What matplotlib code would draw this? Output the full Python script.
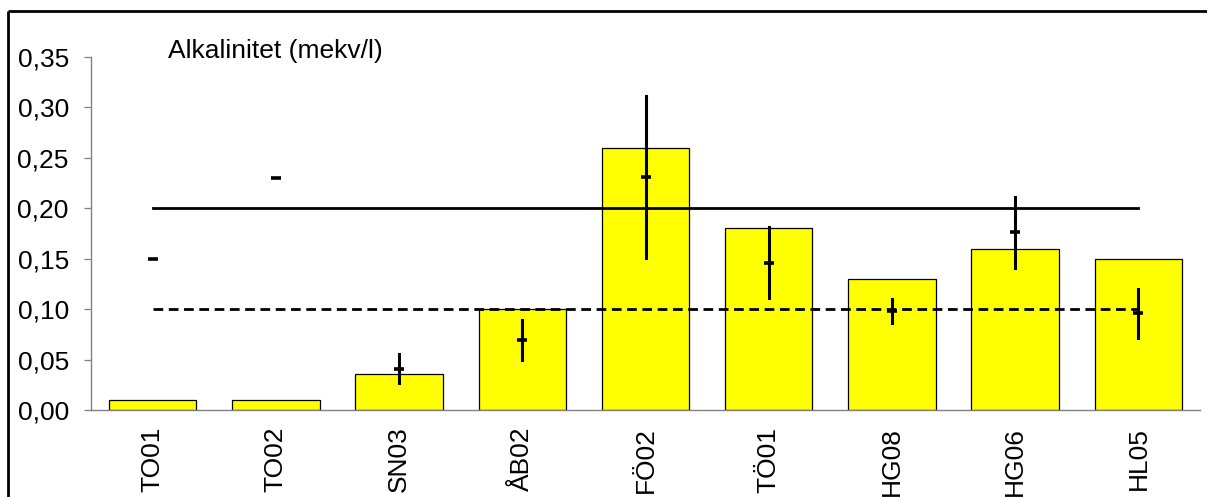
import matplotlib
matplotlib.use("Agg")
import matplotlib.pyplot as plt
from matplotlib.lines import Line2D
from matplotlib.ticker import FuncFormatter

plt.rcParams['font.family'] = ['Liberation Sans', 'DejaVu Sans']

# data
stations = ["TO01", "TO02", "SN03", "ÅB02", "FÖ02", "TÖ01", "HG08", "HG06", "HL05"]
bar_values = [0.01, 0.01, 0.036, 0.10, 0.26, 0.18, 0.13, 0.16, 0.15]
mean_values = [0.15, 0.23, 0.041, 0.069, 0.231, 0.146, 0.098, 0.176, 0.096]
range_low = [None, None, 0.027, 0.05, 0.151, 0.111, 0.086, 0.141, 0.071]
range_high = [None, None, 0.056, 0.089, 0.311, 0.181, 0.110, 0.211, 0.120]
upper_limit = 0.20
lower_limit = 0.10

W, H = 1207, 497
fig = plt.figure(figsize=(W / 100, H / 100), dpi=100)
ax = fig.add_axes([91 / W, 1 - 410 / H, (1200 - 91) / W, (410 - 57) / H])

x = list(range(len(stations)))
ax.bar(x, bar_values, width=0.71, color="#FFFF00", edgecolor="black", linewidth=0.9, zorder=2)

# reference lines
ax.plot([x[0], x[-1]], [upper_limit, upper_limit], color="black", linewidth=2.0, zorder=3)
ax.plot([x[0], x[-1]], [lower_limit, lower_limit], color="black", linewidth=2.0,
        linestyle=(0, (3.5, 2)), zorder=3)

# min-max ranges and mean ticks
for xi, lo, hi, m in zip(x, range_low, range_high, mean_values):
    if lo is not None:
        ax.plot([xi, xi], [lo, hi], color="black", linewidth=2.2, zorder=4)
    ax.plot([xi], [m], marker="_", markersize=7.5, markeredgewidth=2.6, color="black", zorder=5)

ax.set_xlim(-0.5, len(stations) - 0.5)
ax.set_ylim(0, 0.35)
ax.set_yticks([0, 0.05, 0.10, 0.15, 0.20, 0.25, 0.30, 0.35])
ax.yaxis.set_major_formatter(FuncFormatter(lambda v, p: f"{v:.2f}".replace(".", ",")))
ax.set_xticks(x)
ax.set_xticklabels(stations, rotation=90, fontsize=19)
ax.tick_params(axis="x", length=0, pad=12)
ax.tick_params(axis="y", length=5, width=0.9, color="#808080", labelsize=19, pad=11)

for side in ["top", "right"]:
    ax.spines[side].set_visible(False)
for side in ["left", "bottom"]:
    ax.spines[side].set_color("#808080")
    ax.spines[side].set_linewidth(1.0)

fig.text(168 / W, 1 - 58 / H, "Alkalinitet (mekv/l)", fontsize=19, va="baseline", ha="left")

# outer frame: only the left and top edges are inside the picture
fx, fy = 7.5 / W, 1 - 11 / H
fig.add_artist(Line2D([fx, fx], [0, fy], transform=fig.transFigure, color="black",
                      linewidth=2.0, solid_capstyle="butt"))
fig.add_artist(Line2D([fx, 1.0], [fy, fy], transform=fig.transFigure, color="black",
                      linewidth=2.0, solid_capstyle="butt"))

fig.savefig("out.png", dpi=100)
